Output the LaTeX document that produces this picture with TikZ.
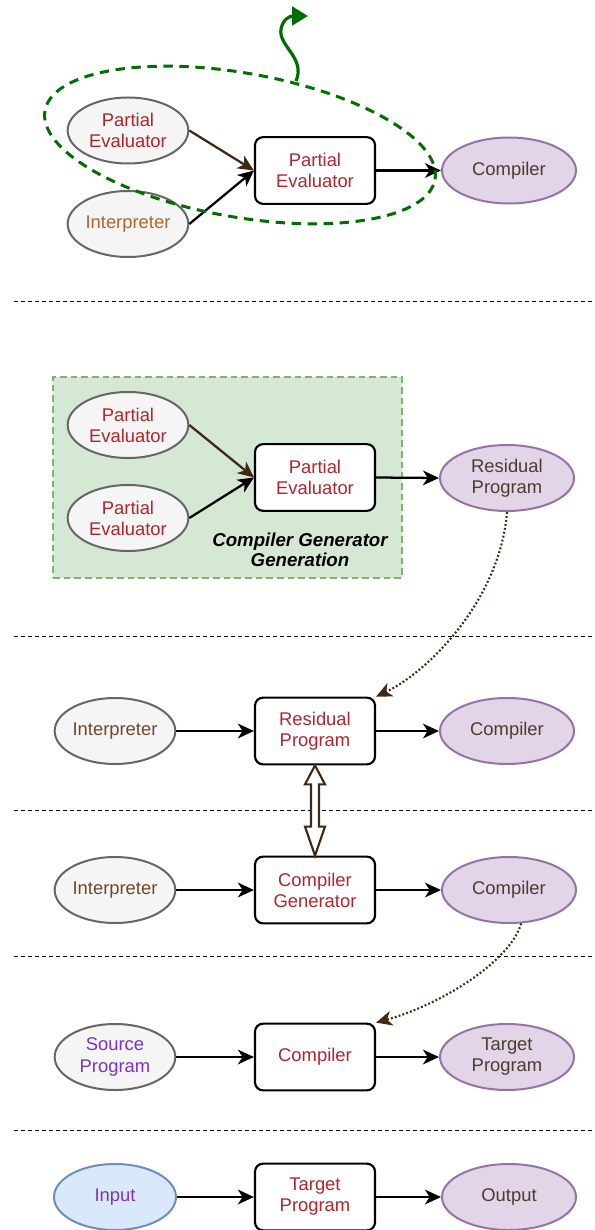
\documentclass[tikz,border=0pt]{standalone}
\usepackage{fontspec}
\setmainfont{Liberation Sans}
\usetikzlibrary{shapes.geometric, arrows.meta, calc}

\definecolor{ellgray}{HTML}{666666}
\definecolor{ellfill}{HTML}{F5F5F5}
\definecolor{purpdraw}{HTML}{9673A6}
\definecolor{purpfill}{HTML}{E1D5E7}
\definecolor{bluedraw}{HTML}{6C8EBF}
\definecolor{bluefill}{HTML}{DAE8FC}
\definecolor{gboxdraw}{HTML}{82B366}
\definecolor{gboxfill}{HTML}{D5E8D4}
\definecolor{txtred}{HTML}{B3242B}
\definecolor{txtorange}{HTML}{B0652A}
\definecolor{txtbrown}{HTML}{6B4A2C}
\definecolor{txtdark}{HTML}{4D3B30}
\definecolor{txtpurple}{HTML}{7A34C8}
\definecolor{arrbrown}{HTML}{3D2914}
\definecolor{loopgreen}{HTML}{006E00}

\begin{document}
\begin{tikzpicture}[x=0.75pt, y=-0.75pt,
  every node/.style={font=\fontsize{13.8}{15.8}\selectfont, align=center, inner sep=0pt},
  grayell/.style={ellipse, draw=ellgray, fill=ellfill, line width=1.5pt,
    minimum width=90.5pt, minimum height=49.5pt},
  purpell/.style={ellipse, draw=purpdraw, fill=purpfill, line width=1.5pt,
    minimum width=100.5pt, minimum height=49.5pt, text=txtdark},
  blueell/.style={ellipse, draw=bluedraw, fill=bluefill, line width=1.5pt,
    minimum width=91.5pt, minimum height=49.5pt, text=txtpurple},
  procbox/.style={rectangle, rounded corners=6pt, draw=black, fill=white,
    line width=1.6pt, minimum width=90pt, minimum height=50pt, text=txtred},
  flow/.style={line width=1.7pt, -{Stealth[length=12pt, width=11pt, inset=3.5pt]}},
  flowbrown/.style={flow, draw=arrbrown, color=arrbrown},
  sepline/.style={line width=0.75pt, dash pattern=on 3pt off 2.25pt},
  dotflow/.style={line width=1.6pt, draw=arrbrown, dash pattern=on 1.4pt off 1.6pt,
    -{Stealth[length=12pt, width=11pt, inset=3.5pt, fill=arrbrown, color=arrbrown]}},
  dblarrow/.style={line width=1.6pt, draw=arrbrown, fill=white, line join=miter},
  groupring/.style={ellipse, draw=loopgreen, line width=2.25pt,
    dash pattern=on 7pt off 5pt, minimum width=297pt, minimum height=108pt},
  loopback/.style={line width=2.4pt, draw=loopgreen,
    -{Triangle[length=12pt, width=14pt, fill=loopgreen, color=loopgreen]}},
  genbox/.style={rectangle, draw=gboxdraw, fill=gboxfill, line width=1.2pt,
    dash pattern=on 5pt off 3pt, minimum width=261.75pt, minimum height=150.75pt},
]
\useasboundingbox (0,0) rectangle (594,1230);

% ---------- stage 1: self-application of the partial evaluator ----------
\node[grayell, text=txtred] (peA) at (128,130.5) {Partial\\Evaluator};
\node[grayell, text=txtorange] (intA) at (128,224) {Interpreter};
\node[procbox] (peboxA) at (315,170.5) {Partial\\Evaluator};
\node[purpell] (compA) at (509,170.5) {Compiler};
\draw[flowbrown] (peA.east) -- (peboxA.west);
\draw[flow] (intA.east) -- (peboxA.west);
\draw[flow] (peboxA.east) -- (compA.west);
\node[groupring, rotate=-10] (ring) at (240,145) {};
\coordinate (loopstart) at (296,81);
\coordinate (looptip) at (308,16);
\draw[loopback] (loopstart) .. controls (306,58) and (278,46) .. (281,29)
  .. controls (283,19) and (290,16) .. (looptip);

\draw[sepline] (14,302) -- (594,302);

% ---------- stage 2: compiler generator generation ----------
\node[genbox] (gen) at (227.5,477.5) {};
\node[grayell, text=txtred] (peB1) at (128,425) {Partial\\Evaluator};
\node[grayell, text=txtred] (peB2) at (128,518) {Partial\\Evaluator};
\node[procbox] (peboxB) at (315,477.5) {Partial\\Evaluator};
\node[purpell] (resB) at (507,478) {Residual\\Program};
\node[font=\fontsize{14}{15}\selectfont\bfseries\itshape] (genlabel) at (300,550)
  {Compiler Generator\\Generation};
\draw[flowbrown] (peB1.east) -- (peboxB.west);
\draw[flow] (peB2.east) -- (peboxB.west);
\draw[flow] (peboxB.east) -- (resB.west);

\draw[sepline] (14,636) -- (594,636);

% ---------- stage 3 ----------
\node[grayell, text=txtbrown] (intC) at (115,731) {Interpreter};
\node[procbox] (resC) at (315,731) {Residual\\Program};
\node[purpell] (compC) at (507,731) {Compiler};
\draw[flow] (intC.east) -- (resC.west);
\draw[flow] (resC.east) -- (compC.west);
\draw[dotflow] (resB.south) .. controls (500,600) and (428,672) .. (resC.north east);

\draw[sepline] (14,810) -- (594,810);

% ---------- stage 4 ----------
\node[grayell, text=txtbrown] (intD) at (115,890) {Interpreter};
\node[procbox] (cgenD) at (315,890) {Compiler\\Generator};
\node[purpell] (compD) at (509,890) {Compiler};
\draw[flow] (intD.east) -- (cgenD.west);
\draw[flow] (cgenD.east) -- (compD.west);

% hollow double arrow: residual program <-> compiler generator
\draw[dblarrow] (resC.south) -- ($(resC.south)+(10,19)$) -- ($(resC.south)+(4,19)$)
  -- ($(cgenD.north)+(4,-29)$) -- ($(cgenD.north)+(10,-29)$) -- (cgenD.north)
  -- ($(cgenD.north)+(-10,-29)$) -- ($(cgenD.north)+(-4,-29)$)
  -- ($(resC.south)+(-4,19)$) -- ($(resC.south)+(-10,19)$) -- cycle;

\draw[sepline] (14,956) -- (594,956);

% ---------- stage 5 ----------
\node[grayell, text=txtpurple] (srcE) at (115,1057) {Source\\Program};
\node[procbox] (compE) at (315,1057) {Compiler};
\node[purpell] (tgtE) at (507,1057) {Target\\Program};
\draw[flow] (srcE.east) -- (compE.west);
\draw[flow] (compE.east) -- (tgtE.west);
\draw[dotflow] (compD.-70) .. controls (510,962) and (440,1005) .. (compE.north east);

\draw[sepline] (14,1130) -- (594,1130);

% ---------- stage 6 ----------
\node[blueell] (inF) at (115,1197) {Input};
\node[procbox] (tgtF) at (315,1197) {Target\\Program};
\node[purpell] (outF) at (509,1197) {Output};
\draw[flow] (inF.east) -- (tgtF.west);
\draw[flow] (tgtF.east) -- (outF.west);
\end{tikzpicture}
\end{document}
